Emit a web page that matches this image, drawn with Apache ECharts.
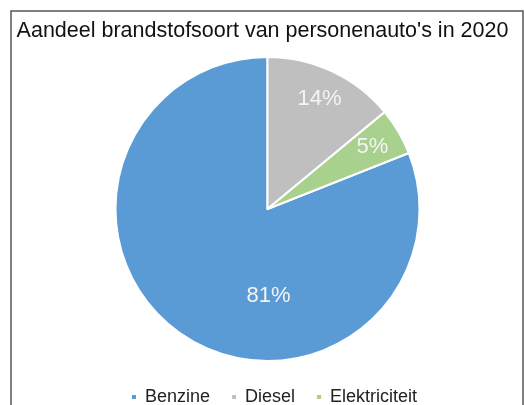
<!DOCTYPE html>
<html><head><meta charset="utf-8">
<script src="https://cdn.jsdelivr.net/npm/echarts@6/dist/echarts.min.js"></script>
<style>html,body{margin:0;padding:0;background:#fff}#c{width:525px;height:405px}</style>
</head><body><div id="c"></div>
<script>
const titleText = "Aandeel brandstofsoort van personenauto's in 2020";
const categories = ['Benzine', 'Diesel', 'Elektriciteit'];
const values = [81, 14, 5];
const colors = ['#5B9BD5', '#BFBFBF', '#A9D18E'];

const chart = echarts.init(document.getElementById('c'), null, {renderer: 'canvas'});
const startAngle = 90 - (values[1] + values[2]) / values.reduce((a, b) => a + b, 0) * 360;
const mainData = categories.map((n, i) => ({
  name: n, value: values[i], itemStyle: {color: colors[i]},
  label: i === 0 ? {show: true, position: 'center', offset: [1, 87]} : {show: false}
}));
const labelData = categories.map((n, i) => ({
  name: n, value: values[i],
  label: {show: i !== 0}
}));
chart.setOption({
  animation: false,
  title: {text: titleText, left: 'center', top: 15,
    textStyle: {fontFamily: 'Liberation Sans', fontSize: 21.5, fontWeight: 'normal', color: '#111'}},
  legend: {top: 383, left: 125, icon: 'rect', itemWidth: 6, itemHeight: 6, itemGap: 20,
    data: categories,
    textStyle: {fontFamily: 'Liberation Sans', fontSize: 18, color: '#222', padding: [0, 0, 0, 3]}},
  graphic: [{type: 'polyline', silent: true, shape: {points: [[11, 405], [11, 11], [523, 11], [523, 405]]},
    style: {stroke: '#555', lineWidth: 1.5, fill: null}}],
  series: [{
    type: 'pie', center: [267.5, 209], radius: [0, 152], startAngle: startAngle, clockwise: true,
    data: mainData,
    itemStyle: {borderColor: '#fff', borderWidth: 2},
    label: {color: '#F4F4F4', fontFamily: 'Liberation Sans', fontSize: 22, formatter: '{c}%'},
    labelLine: {show: false}, emphasis: {disabled: true}
  }, {
    type: 'pie', center: [267.5, 209], radius: [86, 152], startAngle: startAngle, clockwise: true,
    silent: true, data: labelData,
    itemStyle: {color: 'rgba(0,0,0,0)'},
    label: {position: 'inside', color: '#F4F4F4', fontFamily: 'Liberation Sans', fontSize: 22, formatter: '{c}%'},
    labelLine: {show: false}, emphasis: {disabled: true}
  }]
});
</script></body></html>
